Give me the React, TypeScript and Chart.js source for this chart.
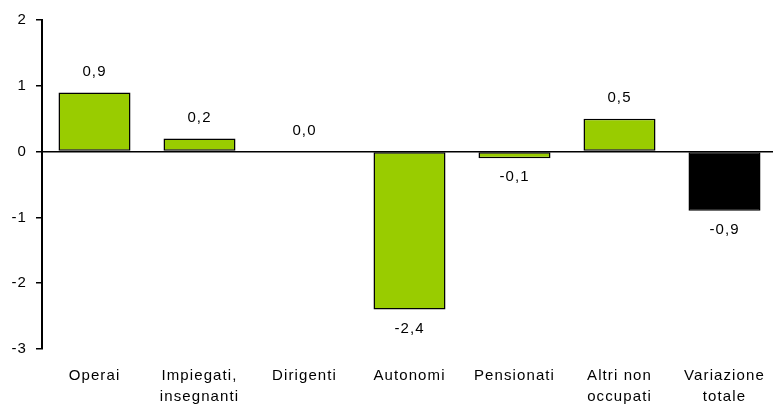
import React, { useEffect, useRef } from "react";
import { Chart, registerables } from "chart.js";

Chart.register(...registerables);

const categories: (string | string[])[] = [
  "Operai",
  ["Impiegati,", "insegnanti"],
  "Dirigenti",
  "Autonomi",
  "Pensionati",
  ["Altri non", "occupati"],
  ["Variazione", "totale"],
];
const values: number[] = [0.9, 0.2, 0.0, -2.4, -0.1, 0.5, -0.9];
const barColors: string[] = ["#99CC00", "#99CC00", "#99CC00", "#99CC00", "#99CC00", "#99CC00", "#000000"];
const yTicks: number[] = [-3, -2, -1, 0, 1, 2];

const FONT = "'Liberation Sans', Arial, sans-serif";
const SPACING = "1.1px";

const spacingPlugin = {
  id: "spacing",
  beforeUpdate(chart: any) {
    chart.ctx.letterSpacing = SPACING;
  },
  beforeLayout(chart: any) {
    chart.ctx.letterSpacing = SPACING;
  },
  beforeDraw(chart: any) {
    chart.ctx.letterSpacing = SPACING;
  },
};

const valueLabels = {
  id: "valueLabels",
  afterDatasetsDraw(chart: any) {
    const ctx = chart.ctx;
    const meta = chart.getDatasetMeta(0);
    ctx.save();
    ctx.letterSpacing = SPACING;
    ctx.font = `15px ${FONT}`;
    ctx.fillStyle = "#000";
    ctx.textAlign = "center";
    ctx.textBaseline = "middle";
    meta.data.forEach((el: any, i: number) => {
      const v = values[i];
      const txt = v.toFixed(1).replace(".", ",");
      const y = v >= 0 ? el.y - 21 : el.y + 19;
      ctx.fillText(txt, el.x, y);
    });
    ctx.restore();
  },
};

export default function App() {
  const ref = useRef<HTMLCanvasElement | null>(null);
  useEffect(() => {
    document.body.style.margin = "0";
    document.body.style.overflow = "hidden";
    const chart = new Chart(ref.current as HTMLCanvasElement, {
      type: "bar",
      data: {
        labels: categories as any,
        datasets: [
          {
            data: values,
            backgroundColor: barColors,
            borderColor: "#000",
            borderWidth: 1.5,
            barPercentage: 0.686,
            categoryPercentage: 1,
            borderSkipped: false,
          },
        ],
      },
      options: {
        animation: false,
        responsive: false,
        maintainAspectRatio: false,
        layout: { padding: { top: 20, right: 0, left: 0, bottom: 0 } },
        plugins: { legend: { display: false }, tooltip: { enabled: false } },
        scales: {
          x: {
            grid: { display: false, drawTicks: false },
            border: { display: false },
            afterFit: (scale: any) => {
              scale.height = 58;
              scale.paddingLeft = 0;
              scale.paddingRight = 0;
            },
            ticks: {
              color: "#000",
              font: { family: FONT, size: 15, lineHeight: 1.4 },
              padding: 16,
              maxRotation: 0,
              autoSkip: false,
            },
          },
          y: {
            min: -3,
            max: 2,
            afterBuildTicks: (scale: any) => {
              scale.ticks = yTicks.map((v) => ({ value: v }));
            },
            afterFit: (scale: any) => {
              scale.width = 42;
            },
            border: { display: true, color: "#000", width: 2 },
            grid: {
              color: (c: any) => (c.tick && c.tick.value === 0 ? "#000" : "rgba(0,0,0,0)"),
              tickColor: "#000",
              tickLength: 6,
              lineWidth: 1.5,
            },
            ticks: {
              color: "#000",
              font: { family: FONT, size: 15 },
              padding: 9,
              callback: (v: any) => String(v),
            },
          },
        },
      },
      plugins: [spacingPlugin, valueLabels],
    });
    return () => chart.destroy();
  }, []);
  return (
    <div style={{ width: 773, height: 407, overflow: "hidden" }}>
      <canvas ref={ref} width={777} height={407} style={{ display: "block" }} />
    </div>
  );
}
